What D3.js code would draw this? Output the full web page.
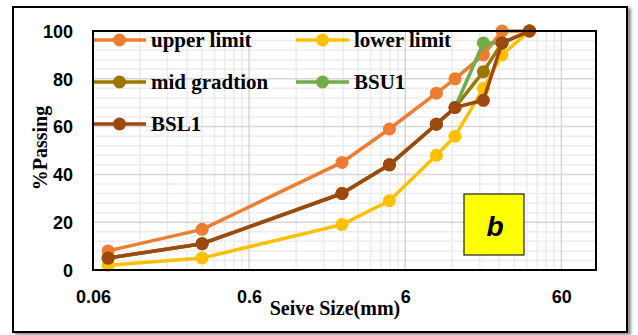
<!DOCTYPE html>
<html>
<head>
<meta charset="utf-8">
<script src="https://cdn.jsdelivr.net/npm/d3@7"></script>
<style>
html,body{margin:0;padding:0;background:#fff;}
svg{display:block;}
</style>
</head>
<body>
<svg id="chart" width="638" height="335"></svg>
<script>
// Data
const sieveSizes = [0.075, 0.3, 2.36, 4.75, 9.5, 12.5, 19, 25, 37.5];
const upperLimit = [8, 17, 45, 59, 74, 80, 90, 100, 100];
const lowerLimit = [2, 5, 19, 29, 48, 56, 76, 90, 100];
const midGradation = [5, 11, 32, 44, 61, 68, 83, 95, 100];
const bsu1 = [5, 11, 32, 44, 61, 68, 95, 95, 100];
const bsl1 = [5, 11, 32, 44, 61, 68, 71, 95, 100];
const seriesNames = ["upper limit", "lower limit", "mid gradtion", "BSU1", "BSL1"];
const xTickValues = [0.06, 0.6, 6, 60];
const xTickLabels = ["0.06", "0.6", "6", "60"];
const yTickValues = [0, 20, 40, 60, 80, 100];

const colors = ["#ED7D31", "#FFC000", "#9C7700", "#70AD47", "#9E480E"];
const seriesData = [upperLimit, lowerLimit, midGradation, bsu1, bsl1];

const svg = d3.select("#chart");
const defs = svg.append("defs");
const f = defs.append("filter").attr("id","shadow").attr("x","-5%").attr("y","-5%").attr("width","112%").attr("height","115%");
f.append("feDropShadow").attr("dx",3).attr("dy",2).attr("stdDeviation",1.5).attr("flood-color","#000").attr("flood-opacity",0.45);

// outer frame
svg.append("rect").attr("x",13).attr("y",7).attr("width",614).attr("height",325)
  .attr("fill","#fff").attr("stroke","#000").attr("stroke-width",2).attr("filter","url(#shadow)");

const L = 93, R = 596, T = 31, B = 270;
const x = d3.scaleLog().domain([0.06, 100]).range([L, R]);
const y = d3.scaleLinear().domain([0, 100]).range([B, T]);

const g = svg.append("g");

// minor gridlines
const xMinor = [];
[0.06, 0.6, 6, 60].forEach(d => { for (let k = 2; k <= 9; k++) { const v = d * k; if (v < 100) xMinor.push(v); } });
const yMinor = d3.range(0, 101, 4).filter(v => v % 20 !== 0);
g.selectAll(".xminor").data(xMinor).join("line")
  .attr("x1", d => x(d)).attr("x2", d => x(d)).attr("y1", T).attr("y2", B)
  .attr("stroke", "#ececec").attr("stroke-width", 1.5);
g.selectAll(".yminor").data(yMinor).join("line")
  .attr("y1", d => y(d)).attr("y2", d => y(d)).attr("x1", L).attr("x2", R)
  .attr("stroke", "#ececec").attr("stroke-width", 1.5);
// major gridlines
g.selectAll(".xmajor").data(xTickValues).join("line")
  .attr("x1", d => x(d)).attr("x2", d => x(d)).attr("y1", T).attr("y2", B)
  .attr("stroke", "#d6d6d6").attr("stroke-width", 1.5);
g.selectAll(".ymajor").data(yTickValues).join("line")
  .attr("y1", d => y(d)).attr("y2", d => y(d)).attr("x1", L).attr("x2", R)
  .attr("stroke", "#d6d6d6").attr("stroke-width", 1.5);

// axes labels
const xAxis = d3.axisBottom(x).tickValues(xTickValues).tickFormat((d,i) => xTickLabels[i]).tickSize(0).tickPadding(0);
const xa = svg.append("g").attr("transform", `translate(0,${B})`).call(xAxis);
xa.select(".domain").remove();
xa.selectAll("text").attr("dy", null).attr("y", 33)
  .style("font-family", "'Liberation Sans', Arial, sans-serif").style("font-weight", "bold").style("font-size", "18px").attr("fill", "#000");

const yAxis = d3.axisLeft(y).tickValues(yTickValues).tickSize(0).tickPadding(0);
const ya = svg.append("g").attr("transform", `translate(${L - 20},0)`).call(yAxis);
ya.select(".domain").remove();
ya.selectAll("text").attr("x", 0).attr("dy", "0.35em")
  .style("font-family", "'Liberation Sans', Arial, sans-serif").style("font-weight", "bold").style("font-size", "18px").attr("fill", "#000");

// legend
const legendPos = [[93, 40], [296, 40], [93, 82], [296, 82], [93, 124]];
const lg = svg.append("g");
seriesNames.forEach((name, i) => {
  const [lx, ly] = legendPos[i];
  lg.append("line").attr("x1", lx).attr("x2", lx + 53).attr("y1", ly).attr("y2", ly)
    .attr("stroke", colors[i]).attr("stroke-width", 3.5);
  lg.append("circle").attr("cx", lx + 26.5).attr("cy", ly).attr("r", 6.5).attr("fill", colors[i]);
  lg.append("text").attr("x", lx + 58).attr("y", ly + 7).text(name)
    .style("font-family", "'Liberation Serif', 'Times New Roman', serif").style("font-weight", "bold").style("font-size", "21px").attr("fill", "#000");
});

// series
const line = d3.line().x((d, i) => x(sieveSizes[i])).y(d => y(d));
seriesData.forEach((vals, s) => {
  const sg = svg.append("g");
  sg.append("path").datum(vals).attr("d", line).attr("fill", "none")
    .attr("stroke", colors[s]).attr("stroke-width", 3.5).attr("stroke-linejoin", "round");
  sg.selectAll("circle").data(vals).join("circle")
    .attr("cx", (d, i) => x(sieveSizes[i])).attr("cy", d => y(d)).attr("r", 6.5).attr("fill", colors[s]);
});

// plot frame
svg.append("rect").attr("x", L).attr("y", T).attr("width", R - L).attr("height", B - T)
  .attr("fill", "none").attr("stroke", "#000").attr("stroke-width", 2);

// axis titles
svg.append("text").attr("x", 335).attr("y", 315).attr("text-anchor", "middle").text("Seive Size(mm)")
  .style("font-family", "'Liberation Serif', 'Times New Roman', serif").style("font-weight", "bold").style("font-size", "20px");
svg.append("text").attr("transform", "translate(47,148) rotate(-90)").attr("text-anchor", "middle").text("%Passing")
  .style("font-family", "'Liberation Serif', 'Times New Roman', serif").style("font-weight", "bold").style("font-size", "20px");

// label box
svg.append("rect").attr("x", 464).attr("y", 194).attr("width", 60).attr("height", 61)
  .attr("fill", "#FFFF00").attr("stroke", "#222").attr("stroke-width", 1.2);
svg.append("text").attr("x", 495).attr("y", 236).attr("text-anchor", "middle").text("b")
  .style("font-family", "'Liberation Sans', Arial, sans-serif").style("font-weight", "bold").style("font-style", "italic").style("font-size", "28px");
</script>
</body>
</html>
